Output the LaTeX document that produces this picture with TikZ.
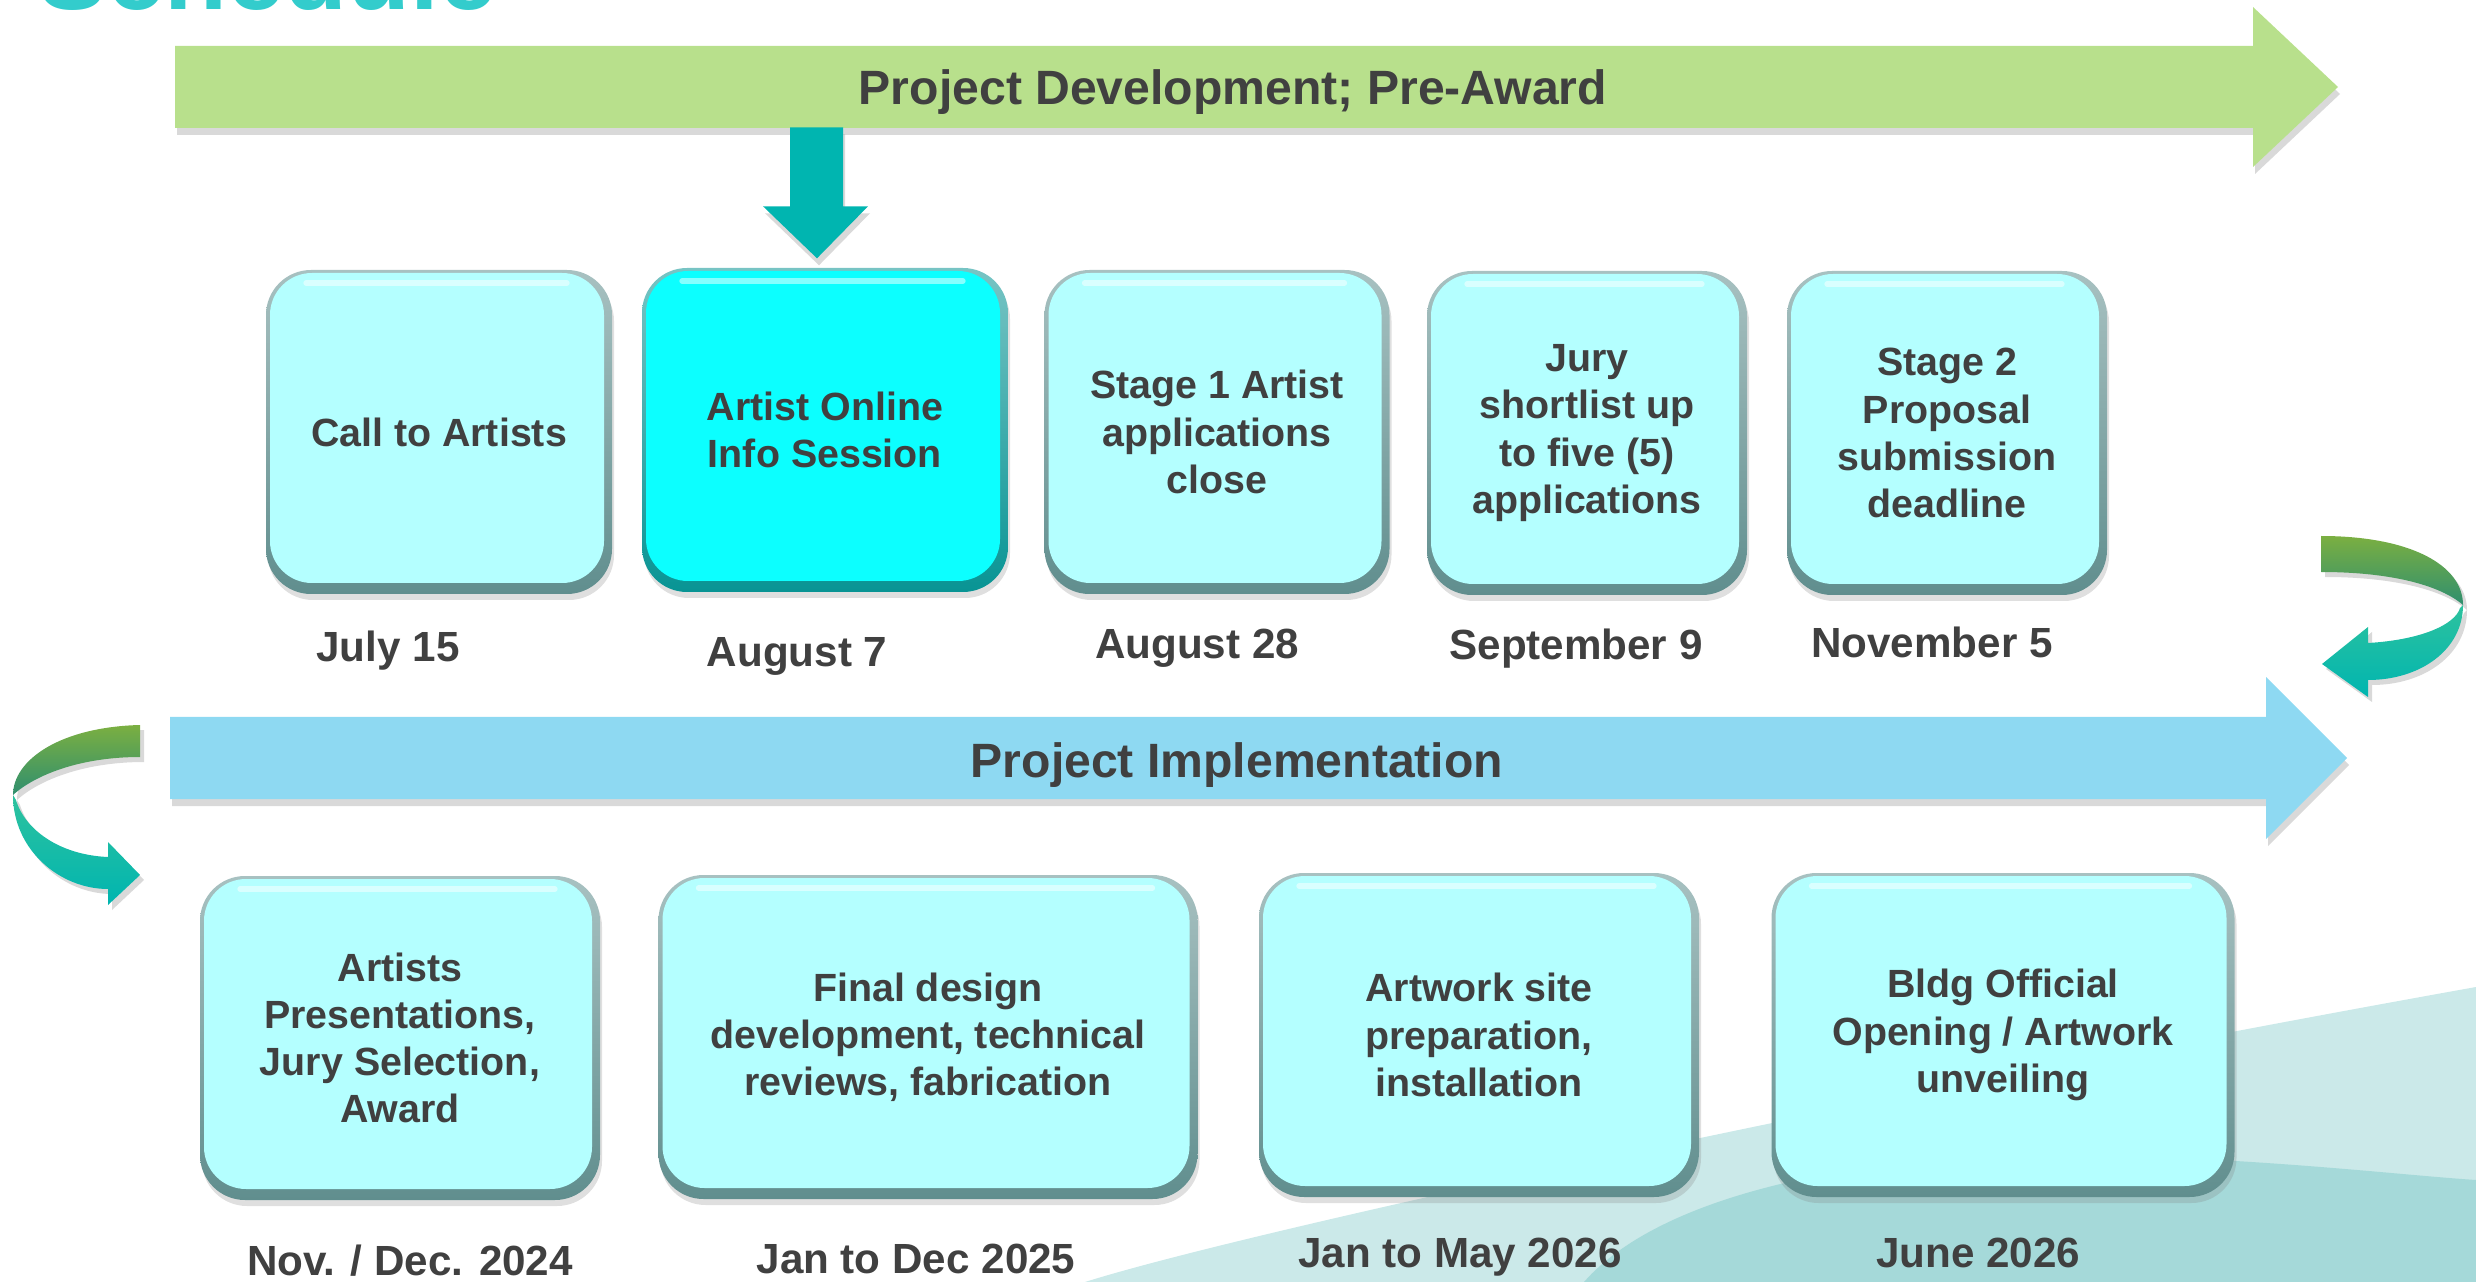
\documentclass[tikz,border=0pt]{standalone}
\usepackage{fontspec}
\setmainfont{Liberation Sans}
\usetikzlibrary{shadows, calc}
\definecolor{txtcol}{RGB}{64,64,64}
\definecolor{titlecol}{RGB}{51,204,204}
\definecolor{devcol}{RGB}{184,224,140}
\definecolor{implcol}{RGB}{142,217,242}
\definecolor{tealcol}{RGB}{0,181,176}
\definecolor{stagecol}{RGB}{180,255,255}
\definecolor{stageedge}{RGB}{96,142,142}
\definecolor{hicol}{RGB}{12,255,255}
\definecolor{hiedge}{RGB}{8,148,148}
\definecolor{swooshlt}{RGB}{203,233,233}
\definecolor{swooshdk}{RGB}{165,217,217}
\definecolor{leafgreen}{RGB}{123,175,65}
\definecolor{twistgreen}{RGB}{47,143,111}
\definecolor{twistteal}{RGB}{46,194,158}
\newcommand{\stagefont}{\fontsize{11.2}{13.4}\selectfont\bfseries}
\newcommand{\datefont}{\fontsize{12}{14}\selectfont\bfseries}
\newcommand{\bandfont}{\fontsize{13.7}{16}\selectfont\bfseries}
\newcommand{\schedfont}{\fontsize{29.3}{34}\selectfont\bfseries}

\begin{document}
\begin{tikzpicture}[
  bevelbox/.style 2 args={top color=#2!55, bottom color=#2,
    path picture={
      \fill[#1, rounded corners=0.42cm]
        ([xshift=0.04cm, yshift=0.11cm]path picture bounding box.south west)
        rectangle ([xshift=-0.08cm, yshift=-0.03cm]path picture bounding box.north east);
      \draw[white, opacity=0.5, line width=1.5pt, line cap=round]
        ([xshift=0.4cm, yshift=-0.13cm]path picture bounding box.north west)
        -- ([xshift=-0.45cm, yshift=-0.13cm]path picture bounding box.north east);
    }},
  boxbase/.style={rounded corners=0.45cm, minimum height=3.24cm, inner sep=0pt,
                  align=center, text=txtcol, font=\stagefont,
                  drop shadow={shadow xshift=0.02cm, shadow yshift=-0.06cm, opacity=0.25}},
  stage/.style={boxbase, bevelbox={stagecol}{stageedge}},
  stagehi/.style={boxbase, bevelbox={hicol}{hiedge}},
  band/.style={drop shadow={shadow xshift=0.02cm, shadow yshift=-0.07cm, opacity=0.3}},
  loopshade/.style={drop shadow={shadow xshift=0.04cm, shadow yshift=-0.05cm, opacity=0.3}},
  bandlbl/.style={font=\bandfont, text=txtcol, anchor=base, inner sep=0pt},
  datelbl/.style={font=\datefont, text=txtcol, anchor=base, inner sep=0pt},
  schedtitle/.style={font=\schedfont, text=titlecol, inner sep=0pt}
]
  \useasboundingbox (0,-12.82) rectangle (24.76,0);
  \clip (0,-12.82) rectangle (24.76,0);

  % background swoosh
  \fill[swooshlt] (10.85,-12.82) .. controls (12.5,-12.3) and (19.0,-10.9) .. (24.76,-9.87)
    -- (24.76,-12.82) -- cycle;
  \fill[swooshdk] (15.84,-12.82) .. controls (16.6,-11.95) and (18.6,-11.5) .. (21.0,-11.55)
    .. controls (22.8,-11.6) and (24.0,-11.75) .. (24.76,-11.8) -- (24.76,-12.82) -- cycle;

  \node[schedtitle, anchor=base west] (title) at (0.38,-0.10) {Schedule};

  % phase bands
  \fill[devcol, band] (1.75,-0.46) -- (22.53,-0.46) -- (22.53,-0.07) -- (23.38,-0.87)
    -- (22.53,-1.67) -- (22.53,-1.28) -- (1.75,-1.28) -- cycle;
  \node[bandlbl] (predev) at (12.33,-1.05) {Project Development; Pre-Award};
  \fill[implcol, band] (1.70,-7.17) -- (22.66,-7.17) -- (22.66,-6.77) -- (23.47,-7.58)
    -- (22.66,-8.39) -- (22.66,-7.99) -- (1.70,-7.99) -- cycle;
  \node[bandlbl] (impl) at (12.37,-7.77) {Project Implementation};

  % pre-award steps
  \node[stage, minimum width=3.46cm] (callart) at (4.39,-4.32) {Call to Artists};
  \node[stagehi, minimum width=3.66cm] (infosess) at (8.25,-4.30) {Artist Online\\Info Session};
  \node[stage, minimum width=3.45cm] (stageone) at (12.17,-4.32)
    {Stage 1 Artist\\applications\\close};
  \node[stage, minimum width=3.20cm] (shortlist) at (15.87,-4.33)
    {Jury\\shortlist up\\to five (5)\\applications};
  \node[stage, minimum width=3.20cm] (stagetwo) at (19.47,-4.33)
    {Stage 2\\Proposal\\submission\\deadline};

  \fill[tealcol, band] ($(infosess.north)+(-0.08,0.09)$) -- ++(-0.54,0.52) -- ++(0.27,0)
    -- ++(0,0.79) -- ++(0.53,0) -- ++(0,-0.79) -- ++(0.25,0) -- cycle;

  \node[datelbl] (dcall) at (3.88,-6.62) {July 15};
  \node[datelbl] (dinfo) at (7.97,-6.67) {August 7};
  \node[datelbl] (dstageone) at (11.97,-6.59) {August 28};
  \node[datelbl] (dshort) at (15.76,-6.60) {September 9};
  \node[datelbl] (dstagetwo) at (19.32,-6.58) {November 5};

  % implementation steps
  \node[stage, minimum width=4.00cm] (artpres) at (4.00,-10.38)
    {Artists\\Presentations,\\Jury Selection,\\Award};
  \node[stage, minimum width=5.39cm] (finaldes) at (9.28,-10.37)
    {Final design\\development, technical\\reviews, fabrication};
  \node[stage, minimum width=4.40cm] (siteprep) at (14.79,-10.35)
    {Artwork site\\preparation,\\installation};
  \node[stage, minimum width=4.63cm] (opening) at (20.03,-10.35)
    {Bldg Official\\Opening / Artwork\\unveiling};

  \node[datelbl] (dartpres) at (4.10,-12.75) {Nov. / Dec. 2024};
  \node[datelbl] (dfinal) at (9.16,-12.73) {Jan to Dec 2025};
  \node[datelbl] (dsite) at (14.60,-12.67) {Jan to May 2026};
  \node[datelbl] (dopen) at (19.78,-12.67) {June 2026};

  % turn-around arrows
  \path[loopshade, top color=leafgreen, bottom color=twistgreen]
    (23.21,-5.36) .. controls (24.10,-5.36) and (24.63,-5.65) .. (24.63,-6.05)
    .. controls (24.40,-5.85) and (23.90,-5.72) .. (23.21,-5.72) -- cycle;
  \path[loopshade, top color=twistteal, bottom color=tealcol]
    (24.63,-6.05) .. controls (24.63,-6.50) and (24.20,-6.80) .. (23.68,-6.80)
    -- (23.68,-6.97) -- (23.22,-6.64) -- (23.68,-6.27) -- (23.68,-6.43)
    .. controls (24.20,-6.40) and (24.55,-6.25) .. (24.60,-6.08) -- cycle;
  \path[loopshade, top color=leafgreen, bottom color=twistgreen]
    (1.40,-7.25) .. controls (0.60,-7.27) and (0.13,-7.60) .. (0.13,-7.95)
    .. controls (0.35,-7.75) and (0.80,-7.57) .. (1.40,-7.57) -- cycle;
  \path[loopshade, top color=twistteal, bottom color=tealcol]
    (0.13,-7.95) .. controls (0.13,-8.50) and (0.60,-8.89) .. (1.08,-8.89)
    -- (1.08,-9.05) -- (1.40,-8.75) -- (1.08,-8.42) -- (1.08,-8.57)
    .. controls (0.60,-8.55) and (0.25,-8.30) .. (0.16,-8.00) -- cycle;
\end{tikzpicture}
\end{document}
